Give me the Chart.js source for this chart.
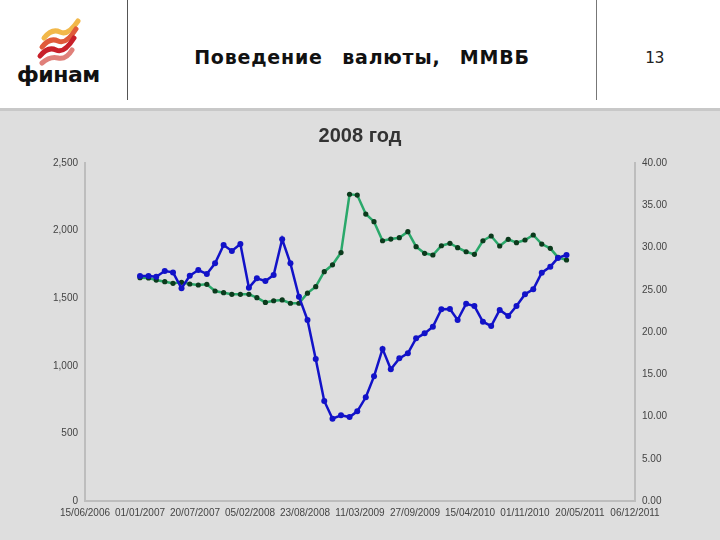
<!DOCTYPE html>
<html lang="ru">
<head>
  <meta charset="UTF-8" />
  <title>Поведение валюты, ММВБ</title>
  <style>
    body {
      margin: 0;
      width: 720px;
      height: 540px;
      overflow: hidden;
      font-family: Arial, "Liberation Sans", sans-serif;
      background: #fff;
      position: relative;
    }

    .header {
      position: absolute;
      left: 0; top: 0;
      width: 720px; height: 108px;
      background: #fff;
      border-bottom: 3px solid #c8c8c8;
    }

    .divider {
      position: absolute;
      top: 0;
      width: 1px;
      height: 100px;
      background: #555;
    }

    .logo-text {
      position: absolute;
      left: 17px; top: 62px;
      font-family: "DejaVu Sans", sans-serif;
      font-weight: bold;
      font-size: 22px;
      color: #111;
      letter-spacing: -0.5px;
    }

    .title {
      position: absolute;
      left: 128px; width: 468px;
      top: 46px;
      text-align: center;
      font-family: "DejaVu Sans", sans-serif;
      font-weight: bold;
      font-size: 19px;
      letter-spacing: 0.8px;
      word-spacing: 12px;
      color: #111;
    }

    .page {
      position: absolute;
      left: 645px; top: 48px;
      font-family: "DejaVu Sans Mono", monospace;
      font-size: 16px;
      color: #222;
    }

    .chart-box {
      position: absolute;
      left: 0; top: 111px;
      width: 720px; height: 429px;
      background: #dedede;
    }
  </style>
</head>
<body>
  <div class="header">
    <!-- logo ribbon -->
    <svg style="position:absolute;left:34px;top:16px" width="50" height="50" viewBox="0 0 50 50">
      <g stroke-width="5" fill="none" stroke-linecap="round">
        <path d="M10 22 Q18 12 26 16 T44 5" stroke="#f2b84a"/>
        <path d="M8 31 Q16 21 24 25 T42 13" stroke="#e05a3a"/>
        <path d="M6 40 Q14 30 22 34 T40 22" stroke="#c8202a"/>
        <path d="M8 47 Q16 40 24 42 T38 34" stroke="#e0807a"/>
      </g>
    </svg>
    <div class="logo-text">финам</div>
    <div class="divider" style="left:127px"></div>
    <div class="title">Поведение валюты, ММВБ</div>
    <div class="divider" style="left:596px;background:#777"></div>
    <div class="page">13</div>
  </div>

  <div class="chart-box">
    <canvas id="fx-chart" width="720" height="429"></canvas>
  </div>

  <script src="https://cdn.jsdelivr.net/npm/chart.js"></script>
  <script>
    // monthly points, first day of each month
    const months = [
      '2007-01','2007-02','2007-03','2007-04','2007-05','2007-06','2007-07','2007-08','2007-09','2007-10','2007-11','2007-12',
      '2008-01','2008-02','2008-03','2008-04','2008-05','2008-06','2008-07','2008-08','2008-09','2008-10','2008-11','2008-12',
      '2009-01','2009-02','2009-03','2009-04','2009-05','2009-06','2009-07','2009-08','2009-09','2009-10','2009-11','2009-12',
      '2010-01','2010-02','2010-03','2010-04','2010-05','2010-06','2010-07','2010-08','2010-09','2010-10','2010-11','2010-12',
      '2011-01','2011-02','2011-03','2011-04'
    ];

    // ММВБ index (left axis)
    const micex = [
      1664, 1664, 1659, 1701, 1691, 1573, 1666, 1708, 1679, 1758, 1893, 1849,
      1901, 1578, 1647, 1627, 1672, 1936, 1758, 1511, 1339, 1050, 740, 609,
      634, 621, 663, 767, 922, 1125, 974, 1055, 1092, 1203, 1240, 1289,
      1418, 1420, 1339, 1459, 1442, 1326, 1294, 1413, 1368, 1442, 1529, 1566,
      1689, 1733, 1798, 1820
    ];

    // USD/RUB (right axis)
    const usdrub = [
      26.43, 26.40, 26.15, 25.95, 25.76, 25.88, 25.68, 25.56, 25.64, 24.85, 24.65, 24.46,
      24.46, 24.46, 24.06, 23.50, 23.70, 23.79, 23.40, 23.40, 24.60, 25.36, 27.14, 27.95,
      29.40, 36.30, 36.20, 33.96, 33.06, 30.80, 31.00, 31.16, 31.87, 30.10, 29.31, 29.11,
      30.21, 30.50, 29.98, 29.50, 29.19, 30.80, 31.36, 30.18, 30.97, 30.57, 30.89, 31.48,
      30.41, 29.90, 28.84, 28.52
    ];

    const leftTicks = [0, 500, 1000, 1500, 2000, 2500];
    const rightTicks = [0, 5, 10, 15, 20, 25, 30, 35, 40];
    const axisStart = Date.UTC(2006, 5, 15); // 15/06/2006
    const dayMs = 86400000;

    function dayOffset(m) {
      const [y, mo] = m.split('-').map(Number);
      return (Date.UTC(y, mo - 1, 1) - axisStart) / dayMs;
    }

    function fmtDate(days) {
      const d = new Date(axisStart + days * dayMs);
      const dd = String(d.getUTCDate()).padStart(2, '0');
      const mm = String(d.getUTCMonth() + 1).padStart(2, '0');
      return dd + '/' + mm + '/' + d.getUTCFullYear();
    }

    const xs = months.map(dayOffset);
    const tickFont = { family: 'Arial, "Liberation Sans", sans-serif', size: 10 };
    const tickColor = '#444';
    const axisLine = '#bdbdbd';

    new Chart(document.getElementById('fx-chart'), {
      type: 'line',
      data: {
        datasets: [{
          label: 'ММВБ',
          data: xs.map((x, i) => ({ x: x, y: micex[i] })),
          yAxisID: 'yLeft',
          borderColor: '#1212c8',
          backgroundColor: '#1212c8',
          borderWidth: 2.5,
          pointRadius: 3,
          pointBorderWidth: 0,
          tension: 0
        }, {
          label: 'USD/RUB',
          data: xs.map((x, i) => ({ x: x, y: usdrub[i] })),
          yAxisID: 'yRight',
          borderColor: '#2aa86a',
          backgroundColor: '#0b3a1c',
          borderWidth: 2.5,
          pointRadius: 2.6,
          pointBorderWidth: 0,
          tension: 0
        }]
      },
      options: {
        responsive: false,
        animation: false,
        layout: { padding: { top: 52, bottom: 0, left: 0, right: 0 } },
        plugins: {
          legend: { display: false },
          tooltip: { enabled: false },
          title: { display: false }
        },
        scales: {
          x: {
            type: 'linear',
            min: 0,
            max: 2000,
            grid: { display: false, drawTicks: false },
            border: { color: axisLine, width: 2 },
            ticks: {
              stepSize: 200,
              autoSkip: false,
              maxRotation: 0,
              padding: 6,
              color: tickColor,
              font: tickFont,
              callback: v => fmtDate(v)
            },
            afterFit: s => { s.height = 39; }
          },
          yLeft: {
            position: 'left',
            min: 0,
            max: 2500,
            grid: { display: false, drawTicks: false },
            border: { color: axisLine, width: 2 },
            afterBuildTicks: s => { s.ticks = leftTicks.map(v => ({ value: v })); },
            ticks: {
              padding: 7,
              color: tickColor,
              font: tickFont,
              callback: v => v.toLocaleString('en-US')
            },
            afterFit: s => { s.width = 85; }
          },
          yRight: {
            position: 'right',
            min: 0,
            max: 40,
            grid: { display: false, drawTicks: false },
            border: { color: axisLine, width: 2 },
            afterBuildTicks: s => { s.ticks = rightTicks.map(v => ({ value: v })); },
            ticks: {
              padding: 7,
              color: tickColor,
              font: tickFont,
              callback: v => v.toFixed(2)
            },
            afterFit: s => { s.width = 85; }
          }
        }
      },
      plugins: [{
        id: 'chartTitle',
        afterDraw(chart) {
          const ctx = chart.ctx;
          ctx.save();
          ctx.font = 'bold 20px Arial, "Liberation Sans", sans-serif';
          ctx.fillStyle = '#333';
          ctx.textAlign = 'center';
          ctx.textBaseline = 'middle';
          ctx.fillText('2008 год', 360, 25);
          ctx.restore();
        }
      }]
    });
  </script>
</body>
</html>
